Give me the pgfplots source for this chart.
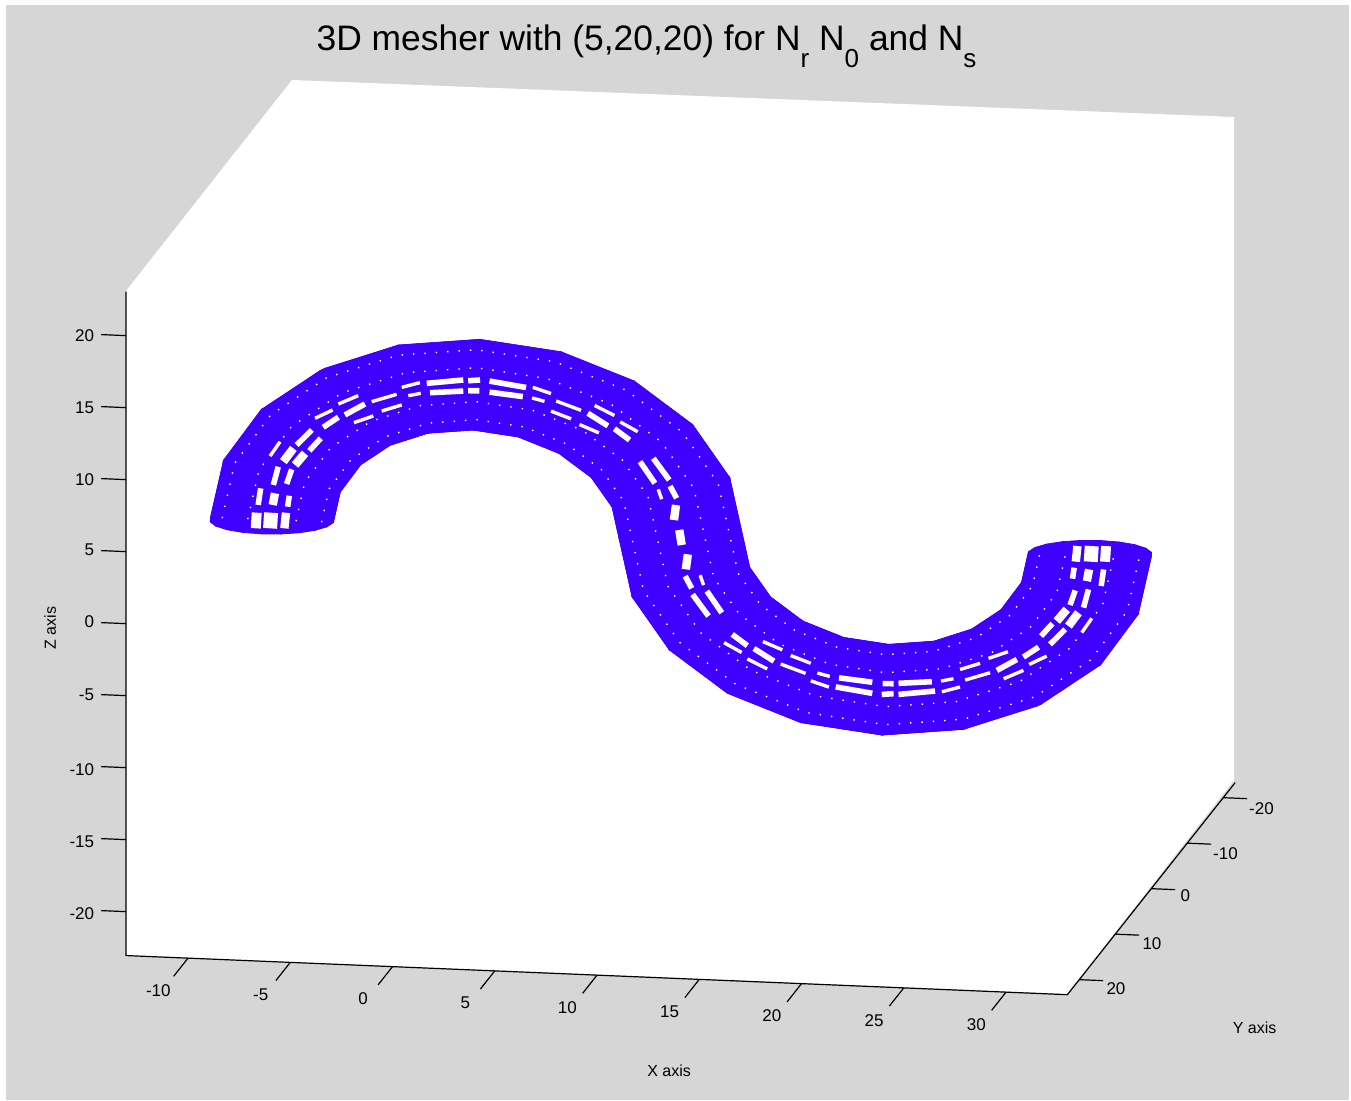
\documentclass[border=0pt]{standalone}
\usepackage{fontspec}
\setmainfont{Liberation Sans}
\usepackage{pgfplots}
\pgfplotsset{compat=1.18}
\definecolor{bgg}{RGB}{214,214,214}
\definecolor{msh}{RGB}{64,0,255}
\pgfplotsset{slot/.style={draw=white,line width=#1,line cap=butt,unbounded coords=jump,forget plot}}
\begin{document}
\begin{tikzpicture}
\begin{scope}[x=0.5pt,y=-0.5pt]
\fill[white] (0,0) rectangle (1351,1101);
\fill[bgg] (6,5) rectangle (1349,1100);
\fill[white] (126,291)--(292,80)--(1234,117)--(1234,780)--(1067,994)--(126,955.5)--cycle;
\end{scope}
\begin{axis}[
 at={(238.2pt,-264.35pt)},anchor=origin,
 x={(10.225pt,-0.425pt)},y={(-1.8pt,-2.275pt)},z={(0pt,7.2pt)},
 xmin=-13.03,xmax=33.0,ymin=-23.3,ymax=23.3,zmin=-23.05,zmax=23.05,
 xtick={-10,-5,...,30},ytick={-20,-10,...,20},ztick={-20,-15,...,20},
 tick label style={font=\fontsize{8.5pt}{10pt}\selectfont},
 xticklabel style={xshift=-5pt},
 yticklabel style={xshift=-1pt,yshift=3.5pt},
 zticklabel style={xshift=-5pt,yshift=13pt},
 /pgf/number format/assume math mode=true,
 tick align=outside,major tick length=12pt,
 axis line style={draw=none},tick style={draw=none},
 xlabel={X axis},ylabel={Y axis},zlabel={Z axis},
 label style={font=\fontsize{8pt}{10pt}\selectfont},
 xlabel style={xshift=48.5pt,yshift=-12.5pt},
 ylabel style={xshift=19pt,yshift=-35.5pt},
 zlabel style={xshift=14.5pt,yshift=1.5pt},
 title={3D mesher with (5,20,20) for N\raisebox{-8.5pt}{\fontsize{13pt}{13pt}\selectfont r} N\raisebox{-8.5pt}{\fontsize{13pt}{13pt}\selectfont 0} and N\raisebox{-8.5pt}{\fontsize{13pt}{13pt}\selectfont s}},
 title style={font=\fontsize{17.7pt}{20pt}\selectfont,anchor=base,xshift=-17pt,yshift=8.5pt},
 colormap={one}{color=(msh) color=(msh)},
 clip=false,
]
\draw[black,line width=0.6pt] (axis cs:-13.03,23.3,23.05)--(axis cs:-13.03,23.3,-23.05)--(axis cs:33,23.3,-23.05)--(axis cs:33,-23.3,-23.05);
\pgfplotsinvokeforeach{-10,-5,0,5,10,15,20,25,30}{\draw[black,line width=0.6pt] (axis cs:#1,23.3,-23.05)--(axis cs:#1,27.3,-23.05);}
\pgfplotsinvokeforeach{-20,-10,0,10,20}{\draw[black,line width=0.6pt] (axis cs:33,#1,-23.05)--(axis cs:34.17,#1,-23.05);}
\pgfplotsinvokeforeach{-20,-15,-10,-5,0,5,10,15,20}{\draw[black,line width=0.6pt] (axis cs:-13.03,23.3,#1)--(axis cs:-14.25,23.3,#1);}
\addplot3[surf,shader=faceted,faceted color=msh,line width=0.4pt,mesh/rows=21,mesh/cols=21] table {
-13 0 0
-12.85 0.93 0
-12.43 1.76 0
-11.76 2.43 0
-10.93 2.85 0
-10 3 0
-9.07 2.85 0
-8.24 2.43 0
-7.57 1.76 0
-7.15 0.93 0
-7 0 0
-7.15 -0.93 0
-7.57 -1.76 0
-8.24 -2.43 0
-9.07 -2.85 0
-10 -3 0
-10.93 -2.85 0
-11.76 -2.43 0
-12.43 -1.76 0
-12.85 -0.93 0
-13 0 0
-12.36 0 4.02
-12.22 0.93 3.97
-11.82 1.76 3.84
-11.18 2.43 3.63
-10.40 2.85 3.38
-9.51 3 3.09
-8.63 2.85 2.80
-7.84 2.43 2.55
-7.20 1.76 2.34
-6.80 0.93 2.21
-6.66 0 2.16
-6.80 -0.93 2.21
-7.20 -1.76 2.34
-7.84 -2.43 2.55
-8.63 -2.85 2.80
-9.51 -3 3.09
-10.40 -2.85 3.38
-11.18 -2.43 3.63
-11.82 -1.76 3.84
-12.22 -0.93 3.97
-12.36 0 4.02
-10.52 0 7.64
-10.40 0.93 7.55
-10.06 1.76 7.31
-9.51 2.43 6.91
-8.84 2.85 6.42
-8.09 3 5.88
-7.34 2.85 5.33
-6.67 2.43 4.84
-6.12 1.76 4.45
-5.78 0.93 4.20
-5.66 0 4.11
-5.78 -0.93 4.20
-6.12 -1.76 4.45
-6.67 -2.43 4.84
-7.34 -2.85 5.33
-8.09 -3 5.88
-8.84 -2.85 6.42
-9.51 -2.43 6.91
-10.06 -1.76 7.31
-10.40 -0.93 7.55
-10.52 0 7.64
-7.64 0 10.52
-7.55 0.93 10.40
-7.31 1.76 10.06
-6.91 2.43 9.51
-6.42 2.85 8.84
-5.88 3 8.09
-5.33 2.85 7.34
-4.84 2.43 6.67
-4.45 1.76 6.12
-4.20 0.93 5.78
-4.11 0 5.66
-4.20 -0.93 5.78
-4.45 -1.76 6.12
-4.84 -2.43 6.67
-5.33 -2.85 7.34
-5.88 -3 8.09
-6.42 -2.85 8.84
-6.91 -2.43 9.51
-7.31 -1.76 10.06
-7.55 -0.93 10.40
-7.64 0 10.52
-4.02 0 12.36
-3.97 0.93 12.22
-3.84 1.76 11.82
-3.63 2.43 11.18
-3.38 2.85 10.40
-3.09 3 9.51
-2.80 2.85 8.63
-2.55 2.43 7.84
-2.34 1.76 7.20
-2.21 0.93 6.80
-2.16 0 6.66
-2.21 -0.93 6.80
-2.34 -1.76 7.20
-2.55 -2.43 7.84
-2.80 -2.85 8.63
-3.09 -3 9.51
-3.38 -2.85 10.40
-3.63 -2.43 11.18
-3.84 -1.76 11.82
-3.97 -0.93 12.22
-4.02 0 12.36
0 0 13
0 0.93 12.85
0 1.76 12.43
0 2.43 11.76
0 2.85 10.93
0 3 10
0 2.85 9.07
0 2.43 8.24
0 1.76 7.57
0 0.93 7.15
0 0 7
0 -0.93 7.15
0 -1.76 7.57
0 -2.43 8.24
0 -2.85 9.07
0 -3 10
0 -2.85 10.93
0 -2.43 11.76
0 -1.76 12.43
0 -0.93 12.85
0 0 13
4.02 0 12.36
3.97 0.93 12.22
3.84 1.76 11.82
3.63 2.43 11.18
3.38 2.85 10.40
3.09 3 9.51
2.80 2.85 8.63
2.55 2.43 7.84
2.34 1.76 7.20
2.21 0.93 6.80
2.16 0 6.66
2.21 -0.93 6.80
2.34 -1.76 7.20
2.55 -2.43 7.84
2.80 -2.85 8.63
3.09 -3 9.51
3.38 -2.85 10.40
3.63 -2.43 11.18
3.84 -1.76 11.82
3.97 -0.93 12.22
4.02 0 12.36
7.64 0 10.52
7.55 0.93 10.40
7.31 1.76 10.06
6.91 2.43 9.51
6.42 2.85 8.84
5.88 3 8.09
5.33 2.85 7.34
4.84 2.43 6.67
4.45 1.76 6.12
4.20 0.93 5.78
4.11 0 5.66
4.20 -0.93 5.78
4.45 -1.76 6.12
4.84 -2.43 6.67
5.33 -2.85 7.34
5.88 -3 8.09
6.42 -2.85 8.84
6.91 -2.43 9.51
7.31 -1.76 10.06
7.55 -0.93 10.40
7.64 0 10.52
10.52 0 7.64
10.40 0.93 7.55
10.06 1.76 7.31
9.51 2.43 6.91
8.84 2.85 6.42
8.09 3 5.88
7.34 2.85 5.33
6.67 2.43 4.84
6.12 1.76 4.45
5.78 0.93 4.20
5.66 0 4.11
5.78 -0.93 4.20
6.12 -1.76 4.45
6.67 -2.43 4.84
7.34 -2.85 5.33
8.09 -3 5.88
8.84 -2.85 6.42
9.51 -2.43 6.91
10.06 -1.76 7.31
10.40 -0.93 7.55
10.52 0 7.64
12.36 0 4.02
12.22 0.93 3.97
11.82 1.76 3.84
11.18 2.43 3.63
10.40 2.85 3.38
9.51 3 3.09
8.63 2.85 2.80
7.84 2.43 2.55
7.20 1.76 2.34
6.80 0.93 2.21
6.66 0 2.16
6.80 -0.93 2.21
7.20 -1.76 2.34
7.84 -2.43 2.55
8.63 -2.85 2.80
9.51 -3 3.09
10.40 -2.85 3.38
11.18 -2.43 3.63
11.82 -1.76 3.84
12.22 -0.93 3.97
12.36 0 4.02
13 0 0
12.85 0.93 0
12.43 1.76 0
11.76 2.43 0
10.93 2.85 0
10 3 0
9.07 2.85 0
8.24 2.43 0
7.57 1.76 0
7.15 0.93 0
7 0 0
7.15 -0.93 0
7.57 -1.76 0
8.24 -2.43 0
9.07 -2.85 0
10 -3 0
10.93 -2.85 0
11.76 -2.43 0
12.43 -1.76 0
12.85 -0.93 0
13 0 0
13.34 0 -2.16
13.20 0.93 -2.21
12.80 1.76 -2.34
12.16 2.43 -2.55
11.37 2.85 -2.80
10.49 3 -3.09
9.60 2.85 -3.38
8.82 2.43 -3.63
8.18 1.76 -3.84
7.78 0.93 -3.97
7.64 0 -4.02
7.78 -0.93 -3.97
8.18 -1.76 -3.84
8.82 -2.43 -3.63
9.60 -2.85 -3.38
10.49 -3 -3.09
11.37 -2.85 -2.80
12.16 -2.43 -2.55
12.80 -1.76 -2.34
13.20 -0.93 -2.21
13.34 0 -2.16
14.34 0 -4.11
14.22 0.93 -4.20
13.88 1.76 -4.45
13.33 2.43 -4.84
12.66 2.85 -5.33
11.91 3 -5.88
11.16 2.85 -6.42
10.49 2.43 -6.91
9.94 1.76 -7.31
9.60 0.93 -7.55
9.48 0 -7.64
9.60 -0.93 -7.55
9.94 -1.76 -7.31
10.49 -2.43 -6.91
11.16 -2.85 -6.42
11.91 -3 -5.88
12.66 -2.85 -5.33
13.33 -2.43 -4.84
13.88 -1.76 -4.45
14.22 -0.93 -4.20
14.34 0 -4.11
15.89 0 -5.66
15.80 0.93 -5.78
15.55 1.76 -6.12
15.16 2.43 -6.67
14.67 2.85 -7.34
14.12 3 -8.09
13.58 2.85 -8.84
13.09 2.43 -9.51
12.69 1.76 -10.06
12.45 0.93 -10.40
12.36 0 -10.52
12.45 -0.93 -10.40
12.69 -1.76 -10.06
13.09 -2.43 -9.51
13.58 -2.85 -8.84
14.12 -3 -8.09
14.67 -2.85 -7.34
15.16 -2.43 -6.67
15.55 -1.76 -6.12
15.80 -0.93 -5.78
15.89 0 -5.66
17.84 0 -6.66
17.79 0.93 -6.80
17.66 1.76 -7.20
17.45 2.43 -7.84
17.20 2.85 -8.63
16.91 3 -9.51
16.62 2.85 -10.40
16.37 2.43 -11.18
16.16 1.76 -11.82
16.03 0.93 -12.22
15.98 0 -12.36
16.03 -0.93 -12.22
16.16 -1.76 -11.82
16.37 -2.43 -11.18
16.62 -2.85 -10.40
16.91 -3 -9.51
17.20 -2.85 -8.63
17.45 -2.43 -7.84
17.66 -1.76 -7.20
17.79 -0.93 -6.80
17.84 0 -6.66
20 0 -7
20 0.93 -7.15
20 1.76 -7.57
20 2.43 -8.24
20 2.85 -9.07
20 3 -10
20 2.85 -10.93
20 2.43 -11.76
20 1.76 -12.43
20 0.93 -12.85
20 0 -13
20 -0.93 -12.85
20 -1.76 -12.43
20 -2.43 -11.76
20 -2.85 -10.93
20 -3 -10
20 -2.85 -9.07
20 -2.43 -8.24
20 -1.76 -7.57
20 -0.93 -7.15
20 0 -7
22.16 0 -6.66
22.21 0.93 -6.80
22.34 1.76 -7.20
22.55 2.43 -7.84
22.80 2.85 -8.63
23.09 3 -9.51
23.38 2.85 -10.40
23.63 2.43 -11.18
23.84 1.76 -11.82
23.97 0.93 -12.22
24.02 0 -12.36
23.97 -0.93 -12.22
23.84 -1.76 -11.82
23.63 -2.43 -11.18
23.38 -2.85 -10.40
23.09 -3 -9.51
22.80 -2.85 -8.63
22.55 -2.43 -7.84
22.34 -1.76 -7.20
22.21 -0.93 -6.80
22.16 0 -6.66
24.11 0 -5.66
24.20 0.93 -5.78
24.45 1.76 -6.12
24.84 2.43 -6.67
25.33 2.85 -7.34
25.88 3 -8.09
26.42 2.85 -8.84
26.91 2.43 -9.51
27.31 1.76 -10.06
27.55 0.93 -10.40
27.64 0 -10.52
27.55 -0.93 -10.40
27.31 -1.76 -10.06
26.91 -2.43 -9.51
26.42 -2.85 -8.84
25.88 -3 -8.09
25.33 -2.85 -7.34
24.84 -2.43 -6.67
24.45 -1.76 -6.12
24.20 -0.93 -5.78
24.11 0 -5.66
25.66 0 -4.11
25.78 0.93 -4.20
26.12 1.76 -4.45
26.67 2.43 -4.84
27.34 2.85 -5.33
28.09 3 -5.88
28.84 2.85 -6.42
29.51 2.43 -6.91
30.06 1.76 -7.31
30.40 0.93 -7.55
30.52 0 -7.64
30.40 -0.93 -7.55
30.06 -1.76 -7.31
29.51 -2.43 -6.91
28.84 -2.85 -6.42
28.09 -3 -5.88
27.34 -2.85 -5.33
26.67 -2.43 -4.84
26.12 -1.76 -4.45
25.78 -0.93 -4.20
25.66 0 -4.11
26.66 0 -2.16
26.80 0.93 -2.21
27.20 1.76 -2.34
27.84 2.43 -2.55
28.63 2.85 -2.80
29.51 3 -3.09
30.40 2.85 -3.38
31.18 2.43 -3.63
31.82 1.76 -3.84
32.22 0.93 -3.97
32.36 0 -4.02
32.22 -0.93 -3.97
31.82 -1.76 -3.84
31.18 -2.43 -3.63
30.40 -2.85 -3.38
29.51 -3 -3.09
28.63 -2.85 -2.80
27.84 -2.43 -2.55
27.20 -1.76 -2.34
26.80 -0.93 -2.21
26.66 0 -2.16
27 0 0
27.15 0.93 0
27.57 1.76 0
28.24 2.43 0
29.07 2.85 0
30 3 0
30.93 2.85 0
31.76 2.43 0
32.43 1.76 0
32.85 0.93 0
33 0 0
32.85 -0.93 0
32.43 -1.76 0
31.76 -2.43 0
30.93 -2.85 0
30 -3 0
29.07 -2.85 0
28.24 -2.43 0
27.57 -1.76 0
27.15 -0.93 0
27 0 0
};
\addplot3[slot=0.7pt,dash pattern=on 0.7pt off 5pt] table {
-12.43 0 0
-11.82 0 3.84
-10.06 0 7.31
-7.31 0 10.06
-3.84 0 11.82
0 0 12.43
3.84 0 11.82
7.31 0 10.06
10.06 0 7.31
11.82 0 3.84
12.43 0 0
12.80 0 -2.34
13.88 0 -4.45
15.55 0 -6.12
17.66 0 -7.20
20 0 -7.57
22.34 0 -7.20
24.45 0 -6.12
26.12 0 -4.45
27.20 0 -2.34
27.57 0 0
nan nan nan
-7.57 0 0
-7.20 0 2.34
-6.12 0 4.45
-4.45 0 6.12
-2.34 0 7.20
0 0 7.57
2.34 0 7.20
4.45 0 6.12
6.12 0 4.45
7.20 0 2.34
7.57 0 0
8.18 0 -3.84
9.94 0 -7.31
12.69 0 -10.06
16.16 0 -11.82
20 0 -12.43
23.84 0 -11.82
27.31 0 -10.06
30.06 0 -7.31
31.82 0 -3.84
32.43 0 0
nan nan nan
-11.18 0 0
-10.63 0 3.45
-9.04 0 6.57
-6.57 0 9.04
-3.45 0 10.63
0 0 11.18
3.45 0 10.63
6.57 0 9.04
9.04 0 6.57
10.63 0 3.45
11.18 0 0
11.61 0 -2.73
12.86 0 -5.18
14.82 0 -7.14
17.27 0 -8.39
20 0 -8.82
22.73 0 -8.39
25.18 0 -7.14
27.14 0 -5.18
28.39 0 -2.73
28.82 0 0
nan nan nan
-8.82 0 0
-8.39 0 2.73
-7.14 0 5.18
-5.18 0 7.14
-2.73 0 8.39
0 0 8.82
2.73 0 8.39
5.18 0 7.14
7.14 0 5.18
8.39 0 2.73
8.82 0 0
9.37 0 -3.45
10.96 0 -6.57
13.43 0 -9.04
16.55 0 -10.63
20 0 -11.18
23.45 0 -10.63
26.57 0 -9.04
29.04 0 -6.57
30.63 0 -3.45
31.18 0 0
};
\addplot3[slot=1.7pt] table {
-9.60 0 5.47
-10.09 0 4.45
nan nan nan
-5.78 0 8.90
-6.75 0 8.26
nan nan nan
-5.04 0 7.53
-5.99 0 7.01
nan nan nan
-7.03 0 7.83
-7.89 0 7.20
nan nan nan
-3.90 0 9.10
-5.12 0 8.52
nan nan nan
-3.65 0 8.38
-4.63 0 7.90
nan nan nan
-2.76 0 9.98
-3.65 0 9.60
nan nan nan
-2.72 0 9.24
-3.33 0 9.04
nan nan nan
8.89 0 3.26
9.06 0 2.58
nan nan nan
5.78 0 8.90
6.75 0 8.26
nan nan nan
5.04 0 7.53
5.99 0 7.01
nan nan nan
7.03 0 7.83
7.89 0 7.20
nan nan nan
3.90 0 9.10
5.12 0 8.52
nan nan nan
3.65 0 8.38
4.63 0 7.90
nan nan nan
2.76 0 9.98
3.65 0 9.60
nan nan nan
2.72 0 9.24
3.33 0 9.04
nan nan nan
29.60 0 -5.47
30.09 0 -4.45
nan nan nan
25.78 0 -8.90
26.75 0 -8.26
nan nan nan
25.04 0 -7.53
25.99 0 -7.01
nan nan nan
27.03 0 -7.83
27.89 0 -7.20
nan nan nan
23.90 0 -9.10
25.12 0 -8.52
nan nan nan
23.65 0 -8.38
24.63 0 -7.90
nan nan nan
22.76 0 -9.98
23.65 0 -9.60
nan nan nan
22.72 0 -9.24
23.33 0 -9.04
nan nan nan
11.11 0 -3.26
10.94 0 -2.58
nan nan nan
14.22 0 -8.90
13.25 0 -8.26
nan nan nan
14.96 0 -7.53
14.01 0 -7.01
nan nan nan
12.97 0 -7.83
12.11 0 -7.20
nan nan nan
16.10 0 -9.10
14.88 0 -8.52
nan nan nan
16.35 0 -8.38
15.37 0 -7.90
nan nan nan
17.24 0 -9.98
16.35 0 -9.60
nan nan nan
17.28 0 -9.24
16.67 0 -9.04
};
\addplot3[slot=2.8pt] table {
-10.55 0 2.18
-10.67 0 1.02
nan nan nan
-9.15 0 1.75
-9.23 0 0.98
nan nan nan
-9.69 0 3.73
-9.93 0 2.45
nan nan nan
-9.03 0 3.59
-9.28 0 2.56
nan nan nan
-8.05 0 6.38
-8.79 0 5.29
nan nan nan
-7.61 0 5.83
-8.17 0 4.93
nan nan nan
-5.45 0 8.34
-6.43 0 7.52
nan nan nan
-6.75 0 7.34
-7.49 0 6.60
nan nan nan
-0.64 0 10.29
-2.43 0 9.95
nan nan nan
-0.64 0 9.52
-2.27 0 9.31
nan nan nan
0.18 0 10.34
-0.40 0 10.25
nan nan nan
0.14 0 9.59
-0.40 0 9.56
nan nan nan
8.00 0 5.13
8.73 0 3.67
nan nan nan
8.65 0 5.40
9.43 0 3.94
nan nan nan
9.47 0 3.52
9.79 0 2.69
nan nan nan
5.45 0 8.34
6.43 0 7.52
nan nan nan
6.75 0 7.34
7.49 0 6.60
nan nan nan
0.64 0 10.29
2.43 0 9.95
nan nan nan
0.64 0 9.52
2.27 0 9.31
nan nan nan
30.55 0 -2.18
30.67 0 -1.02
nan nan nan
29.15 0 -1.75
29.23 0 -0.98
nan nan nan
29.69 0 -3.73
29.93 0 -2.45
nan nan nan
29.03 0 -3.59
29.28 0 -2.56
nan nan nan
28.05 0 -6.38
28.79 0 -5.29
nan nan nan
27.61 0 -5.83
28.17 0 -4.93
nan nan nan
25.45 0 -8.34
26.43 0 -7.52
nan nan nan
26.75 0 -7.34
27.49 0 -6.60
nan nan nan
20.64 0 -10.29
22.43 0 -9.95
nan nan nan
20.64 0 -9.52
22.27 0 -9.31
nan nan nan
19.82 0 -10.34
20.40 0 -10.25
nan nan nan
19.86 0 -9.59
20.40 0 -9.56
nan nan nan
12.00 0 -5.13
11.27 0 -3.67
nan nan nan
11.35 0 -5.40
10.57 0 -3.94
nan nan nan
10.53 0 -3.52
10.21 0 -2.69
nan nan nan
14.55 0 -8.34
13.57 0 -7.52
nan nan nan
13.25 0 -7.34
12.51 0 -6.60
nan nan nan
19.36 0 -10.29
17.57 0 -9.95
nan nan nan
19.36 0 -9.52
17.73 0 -9.31
};
\addplot3[slot=4.2pt] table {
-9.31 0 0.56
-9.39 0 -0.53
nan nan nan
-9.85 0 1.88
-9.96 0 1.06
nan nan nan
-8.95 0 5.05
-9.44 0 4.10
nan nan nan
-8.38 0 4.74
-8.87 0 3.90
nan nan nan
9.76 0 2.22
9.66 0 1.17
nan nan nan
9.92 0 0.50
10.04 0 -0.54
nan nan nan
29.31 0 -0.56
29.39 0 0.53
nan nan nan
29.85 0 -1.88
29.96 0 -1.06
nan nan nan
28.95 0 -5.05
29.44 0 -4.10
nan nan nan
28.38 0 -4.74
28.87 0 -3.90
nan nan nan
10.24 0 -2.22
10.34 0 -1.17
};
\addplot3[slot=5pt] table {
-10.74 0 0.48
-10.79 0 -0.61
nan nan nan
30.74 0 -0.48
30.79 0 0.61
};
\addplot3[slot=7pt] table {
-10.04 0 0.52
-10.09 0 -0.57
nan nan nan
30.04 0 -0.52
30.09 0 0.57
};
\end{axis}
\end{tikzpicture}
\end{document}
